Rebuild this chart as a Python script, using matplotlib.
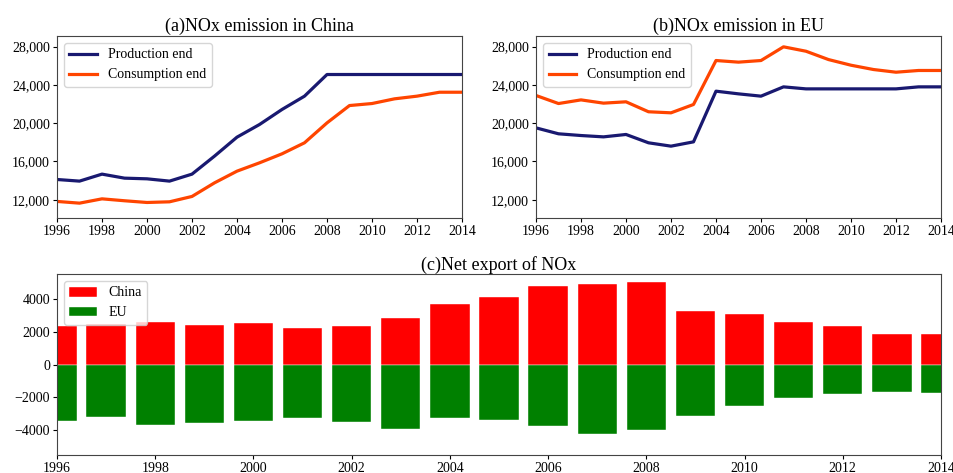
import numpy as np
import matplotlib
matplotlib.use('Agg')
import matplotlib.pyplot as plt
from matplotlib.ticker import FuncFormatter

plt.rcParams['font.family'] = ['Liberation Serif', 'DejaVu Serif']

years = list(range(1996, 2015))

# (a) China, NOx emission
china_production = [14120, 13950, 14680, 14260, 14190, 13950, 14680, 16560, 18540, 19860,
                    21430, 22820, 25080, 25080, 25080, 25080, 25080, 25080, 25080]
china_consumption = [11830, 11650, 12100, 11900, 11720, 11790, 12350, 13770, 14990, 15860,
                     16800, 17950, 20030, 21840, 22050, 22540, 22820, 23230, 23230]

# (b) EU, NOx emission
eu_production = [19510, 18890, 18710, 18570, 18820, 17950, 17600, 18050, 23340, 23060,
                 22820, 23790, 23580, 23580, 23580, 23580, 23580, 23790, 23790]
eu_consumption = [22890, 22050, 22430, 22090, 22230, 21190, 21080, 21950, 26540, 26370,
                  26540, 27970, 27510, 26640, 26050, 25600, 25320, 25500, 25500]

# (c) net export
china_net = [2310, 2450, 2560, 2410, 2520, 2210, 2310, 2800, 3650, 4100,
             4750, 4870, 5030, 3250, 3060, 2600, 2310, 1870, 1830]
eu_net = [-3410, -3200, -3690, -3550, -3450, -3250, -3490, -3940, -3250, -3350,
          -3730, -4200, -4000, -3100, -2520, -2010, -1790, -1660, -1720]

W, H = 954, 473
fig = plt.figure(figsize=(W / 100, H / 100), dpi=100)


def box(l, t, r, b):
    return [l / W, 1 - b / H, (r - l) / W, (b - t) / H]


ax_a = fig.add_axes(box(57, 36, 462, 218))
ax_b = fig.add_axes(box(536, 36, 941, 218))
ax_c = fig.add_axes(box(57, 274, 941, 455))

prod_color = '#191970'
cons_color = '#ff4500'
comma = FuncFormatter(lambda v, p: f'{int(v):,}')

for ax, prod, cons, title in [(ax_a, china_production, china_consumption, '(a)NOx emission in China'),
                              (ax_b, eu_production, eu_consumption, '(b)NOx emission in EU')]:
    ax.plot(years, prod, color=prod_color, lw=2.3, label='Production end')
    ax.plot(years, cons, color=cons_color, lw=2.3, label='Consumption end')
    ax.set_xlim(1996, 2014)
    ax.set_ylim(10100, 29100)
    ax.set_yticks([12000, 16000, 20000, 24000, 28000])
    ax.yaxis.set_major_formatter(comma)
    ax.set_xticks(range(1996, 2015, 2))
    ax.set_title(title, fontsize=13, pad=4)
    ax.legend(loc='upper left', fontsize=10)

ax_c.bar(years, china_net, width=0.8, color='red', edgecolor='white', linewidth=0.3, label='China')
ax_c.bar(years, eu_net, width=0.8, color='green', edgecolor='white', linewidth=0.3, label='EU')
ax_c.set_xlim(1996, 2014)
ax_c.set_ylim(-5500, 5500)
ax_c.set_yticks([-4000, -2000, 0, 2000, 4000])
ax_c.set_xticks(range(1996, 2015, 2))
ax_c.set_title('(c)Net export of NOx', fontsize=13, pad=3)
ax_c.legend(loc='upper left', fontsize=10)

for ax in (ax_a, ax_b, ax_c):
    ax.tick_params(labelsize=10, length=3, pad=2)
    for s in ax.spines.values():
        s.set_color('#444444')

fig.savefig('out.png', dpi=100)
